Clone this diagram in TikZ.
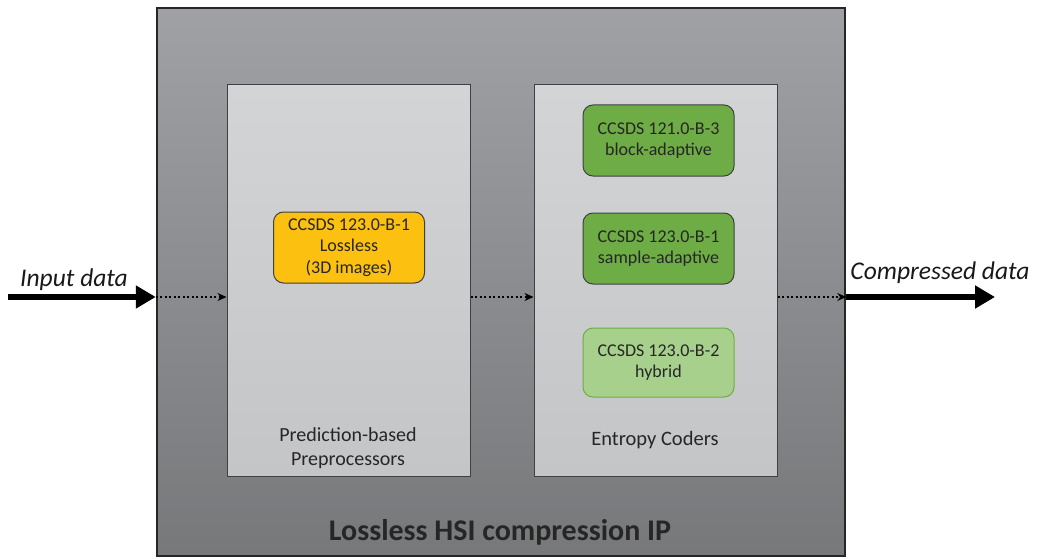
\documentclass[tikz,border=0pt]{standalone}
\usepackage{fontspec}
\setmainfont{Carlito}
\usetikzlibrary{arrows.meta}
\usetikzlibrary{positioning}
\definecolor{outertop}{HTML}{A0A1A5}
\definecolor{outerbot}{HTML}{77787A}
\definecolor{paneltop}{HTML}{D3D4D6}
\definecolor{panelbot}{HTML}{C4C5C7}
\definecolor{gold}{HTML}{FCC010}
\definecolor{darkgreen}{HTML}{6EAC46}
\definecolor{lightgreen}{HTML}{A8D08D}
\tikzstyle{ipblock} = [rectangle, draw=black!85, line width=2.5pt, top color=outertop, bottom color=outerbot,
  minimum width=688pt, minimum height=548pt]
\tikzstyle{panelblock} = [rectangle, draw=black!75, line width=1pt, top color=paneltop, bottom color=panelbot,
  minimum width=243pt, minimum height=391pt]
\tikzstyle{stdblock} = [rectangle, rounded corners=10pt, minimum width=151pt, minimum height=71pt, text centered,
  align=center, font=\fontsize{18}{21.5}\selectfont, text=black!85, inner sep=0pt]
\tikzstyle{bigarrow} = [line width=6pt, -{Triangle[length=20pt,width=22pt]}]
\tikzstyle{dotarrow} = [line width=2pt, dash pattern=on 2pt off 2.5pt, -{Stealth[length=9pt,width=8pt]}]
\tikzstyle{iolabel} = [font=\fontsize{25.5}{30}\selectfont\itshape, text=black!90]

\begin{document}
\begin{tikzpicture}[x=1pt, y=-1pt]
  \useasboundingbox (0,0) rectangle (1038,559);
  \node (ip) [ipblock] at (501,282) {};
  \node (pre) [panelblock] at (348.5,280.5) {};
  \node (ent) [panelblock] at (655.5,280.5) {};
  \node (lossless) [stdblock, draw=black!75, line width=1pt, fill=gold] at (349,247.5)
    {CCSDS 123.0-B-1\\Lossless\\(3D images)};
  \node (block) [stdblock, draw=black!75, line width=1pt, fill=darkgreen] at (658.5,140.5)
    {CCSDS 121.0-B-3\\block-adaptive};
  \node (sample) [stdblock, draw=black!75, line width=1pt, fill=darkgreen] at (658.5,248.5)
    {CCSDS 123.0-B-1\\sample-adaptive};
  \node (hybrid) [stdblock, draw=darkgreen, line width=1pt, fill=lightgreen, minimum height=69pt] at (658.5,362.5)
    {CCSDS 123.0-B-2\\hybrid};
  \node (prelabel) [align=center, font=\fontsize{20}{24}\selectfont, text=black!85] at (348,448)
    {Prediction-based\\Preprocessors};
  \node (entlabel) [font=\fontsize{20.5}{24}\selectfont, text=black!85] at (655,440) {Entropy Coders};
  \node (iplabel) [font=\fontsize{30}{36}\selectfont\bfseries, text=black!85] at (500,532)
    {Lossless HSI compression IP};
  % input and output
  \coordinate (in) at (8,297);
  \coordinate (out) at (995,297);
  \node (inlabel) [iolabel] at (74,280) {Input data};
  \node (outlabel) [iolabel] at (940,273) {Compressed data};
  \draw [bigarrow] (in) -- (ip.west |- in);
  \draw [dotarrow] (ip.west |- in) -- (pre.west |- in);
  \draw [dotarrow] (pre.east |- in) -- (ent.west |- in);
  \draw [dotarrow] (ent.east |- in) -- (ip.east |- in);
  \draw [bigarrow] (ip.east |- in) -- (out);
\end{tikzpicture}
\end{document}
